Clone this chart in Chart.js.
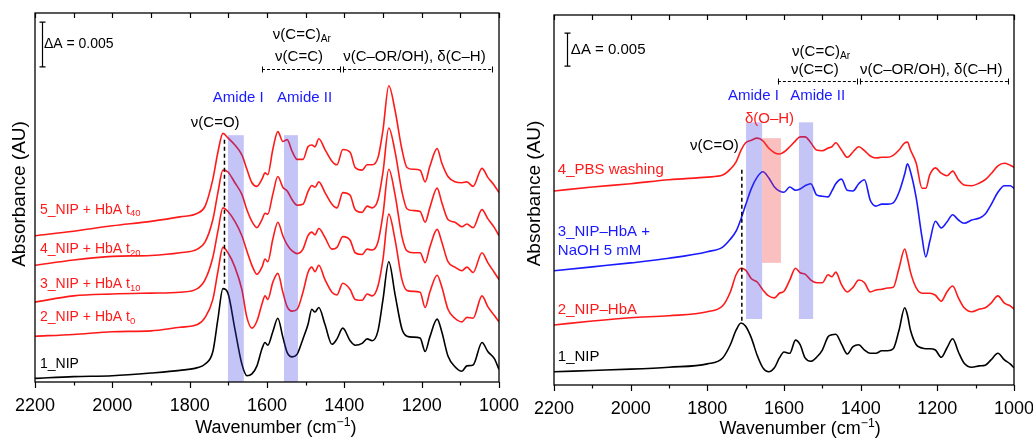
<!DOCTYPE html>
<html>
<head>
<meta charset="utf-8">
<script src="https://cdn.jsdelivr.net/npm/chart.js@4.4.0/dist/chart.umd.min.js"></script>
<style>
  html, body { margin: 0; padding: 0; background: #fff; overflow: hidden; width: 1033px; height: 439px; }
  canvas { position: absolute; top: 0; }
  #left { left: 0; }
  #right { left: 516px; }
</style>
</head>
<body>
<canvas id="left" width="540" height="439"></canvas>
<canvas id="right" width="540" height="439"></canvas>
<script>
// absorbance values are in units of 10^-3 (so the 0.005 scale bar is 5 units)
const wnLeft = [2200, 2100, 2000, 1900, 1825, 1780, 1760, 1740, 1727, 1714, 1701, 1683, 1665, 1652, 1639, 1626, 1613, 1605, 1598, 1585,
  1572, 1559, 1548, 1535, 1522, 1507, 1494, 1484, 1476, 1466, 1450, 1432, 1419, 1404, 1385, 1372, 1354, 1341, 1328, 1313,
  1300, 1285, 1269, 1251, 1238, 1222, 1204, 1191, 1179, 1160, 1148, 1132, 1114, 1096, 1083, 1067, 1044, 1029, 1012, 1000];

const nipLeft = [0.4, 0.6, 0.7, 1.0, 1.3, 1.6, 2.0, 3.4, 7.0, 10.4, 9.9, 5.9, 2.0, 0.7, 0.9, 1.8, 3.7, 4.4, 4.1, 5.6,
  7.1, 5.0, 3.3, 2.8, 3.1, 4.8, 6.4, 8.1, 7.8, 8.3, 6.4, 4.2, 4.8, 6.0, 4.6, 4.1, 4.3, 4.8, 4.6, 5.7,
  9.2, 13.4, 9.8, 5.9, 5.1, 5.0, 4.9, 3.4, 5.0, 7.0, 5.6, 2.9, 1.7, 1.2, 1.8, 1.9, 4.4, 3.4, 2.6, 1.4];
const hbaT0 = [5.1, 5.3, 5.6, 5.7, 6.1, 6.4, 7.2, 9.2, 12.3, 15.0, 14.4, 12.8, 10.3, 7.2, 6.0, 6.8, 8.7, 9.6, 9.2, 11.1,
  12.1, 10.0, 8.4, 7.9, 8.1, 10.0, 12.2, 12.8, 12.3, 13.0, 11.4, 10.0, 9.7, 11.0, 10.3, 9.2, 9.1, 9.8, 9.6, 10.7,
  13.7, 18.7, 15.9, 11.4, 10.2, 10.1, 10.0, 8.3, 10.0, 11.9, 10.6, 8.1, 7.1, 6.7, 7.2, 7.1, 9.6, 8.4, 7.4, 6.7];
const hbaT10 = [8.9, 9.6, 9.8, 9.9, 10.0, 10.4, 11.4, 13.9, 16.8, 19.4, 19.0, 17.9, 16.3, 14.6, 13.0, 12.0, 12.8, 13.7, 13.4, 15.9,
  17.8, 16.3, 15.3, 14.6, 14.3, 14.8, 16.3, 16.7, 16.4, 17.1, 16.1, 14.8, 15.0, 16.2, 15.8, 14.4, 14.2, 14.8, 14.7, 15.6,
  18.7, 23.7, 20.9, 16.2, 14.6, 14.4, 14.4, 13.3, 15.0, 17.0, 15.6, 13.4, 12.8, 12.4, 12.8, 12.2, 14.4, 13.3, 12.2, 11.4];
const hbaT20 = [13.0, 13.6, 14.0, 14.1, 14.4, 14.8, 15.6, 18.1, 21.1, 23.6, 23.4, 22.2, 20.9, 19.2, 17.9, 17.2, 18.1, 18.8, 18.7, 20.9,
  22.9, 21.7, 21.3, 20.3, 19.7, 19.8, 21.2, 21.9, 21.7, 22.3, 21.1, 19.8, 19.4, 21.1, 20.8, 19.2, 18.9, 19.6, 19.4, 20.3,
  23.4, 28.3, 25.7, 21.2, 19.3, 19.1, 19.0, 17.8, 19.4, 21.6, 20.0, 18.1, 17.8, 17.3, 17.6, 17.2, 19.2, 18.2, 17.2, 16.3];
const hbaT40 = [16.3, 16.8, 17.4, 17.9, 18.4, 18.8, 19.6, 22.6, 25.6, 27.7, 27.2, 26.4, 25.3, 23.7, 22.2, 21.8, 22.6, 23.3, 23.1, 25.9,
  27.9, 26.8, 27.0, 25.7, 24.8, 24.8, 26.2, 26.4, 26.2, 27.1, 25.9, 24.6, 24.2, 25.9, 25.6, 23.9, 23.6, 24.2, 24.2, 25.0,
  28.1, 33.0, 30.3, 25.9, 23.9, 23.7, 23.6, 22.3, 24.0, 26.0, 24.4, 22.9, 22.3, 22.2, 22.3, 21.8, 23.8, 22.8, 21.9, 21.1];

const wnRight = [2200, 2100, 2000, 1900, 1800, 1760, 1740, 1725, 1712, 1700, 1685, 1670, 1655, 1640, 1625, 1612, 1600, 1585, 1570, 1558,
  1545, 1530, 1515, 1500, 1485, 1475, 1465, 1450, 1435, 1420, 1405, 1390, 1375, 1360, 1345, 1330, 1315, 1300, 1285, 1278,
  1270, 1255, 1240, 1230, 1220, 1205, 1190, 1175, 1160, 1145, 1130, 1110, 1090, 1075, 1060, 1042, 1025, 1010, 1000];

const nipRight = [2.0, 2.2, 2.4, 2.7, 3.2, 4.1, 6.1, 8.3, 9.4, 8.9, 7.1, 4.5, 2.6, 2.0, 2.6, 4.1, 5.0, 4.8, 6.8, 6.1,
  4.1, 3.6, 4.2, 5.3, 7.3, 7.6, 7.7, 6.2, 4.7, 5.8, 6.1, 5.3, 4.8, 4.8, 5.2, 5.2, 5.5, 8.3, 11.7, 10.6,
  8.3, 6.1, 5.6, 5.5, 5.5, 5.3, 4.2, 5.6, 7.0, 5.0, 3.3, 2.7, 2.9, 3.0, 3.8, 4.8, 3.8, 3.2, 2.6];
const nipHbA = [9.1, 9.7, 10.2, 10.5, 11.1, 12.0, 14.1, 16.7, 17.7, 17.4, 16.1, 15.6, 14.4, 13.5, 13.2, 13.9, 14.2, 15.9, 17.7, 17.0,
  16.8, 15.9, 15.5, 15.5, 16.7, 16.4, 17.1, 15.2, 14.1, 14.8, 15.9, 15.5, 14.1, 14.4, 14.5, 14.7, 14.8, 17.7, 20.6, 19.2,
  17.1, 14.7, 13.9, 13.9, 13.9, 13.6, 12.7, 14.1, 15.0, 13.2, 11.7, 11.1, 11.5, 11.7, 12.4, 13.5, 12.4, 12.0, 11.5];
const nipHbANaOH = [17.3, 17.9, 18.5, 19.2, 20.2, 20.9, 22.1, 23.3, 25.2, 27.3, 29.8, 31.5, 32.3, 31.4, 30.0, 29.4, 29.2, 30.0, 29.5, 29.7,
  30.2, 30.5, 28.8, 28.6, 28.5, 29.4, 30.5, 31.2, 29.5, 29.4, 30.5, 31.1, 28.0, 27.1, 27.4, 27.4, 27.6, 29.2, 32.0, 33.5,
  32.3, 28.3, 22.4, 19.4, 21.7, 24.8, 23.8, 24.7, 25.8, 25.0, 24.5, 25.0, 25.3, 25.9, 27.3, 29.2, 30.2, 30.2, 29.8];
const pbsWash = [29.4, 30.0, 30.5, 31.1, 31.5, 31.8, 32.7, 33.8, 35.6, 36.7, 37.1, 37.4, 37.0, 35.9, 35.2, 35.0, 35.3, 36.1, 37.0, 37.6,
  37.6, 36.7, 35.6, 35.5, 35.9, 36.1, 36.7, 35.6, 34.5, 35.3, 36.1, 35.5, 34.7, 34.4, 34.5, 34.5, 34.8, 35.6, 36.7, 36.8,
  35.6, 33.6, 29.8, 29.8, 31.8, 32.9, 32.1, 31.7, 32.4, 31.1, 30.3, 30.2, 30.6, 31.1, 32.0, 33.2, 33.6, 33.3, 33.0];

const xTicks = [2200, 2000, 1800, 1600, 1400, 1200, 1000];

const FONT = '"Liberation Sans", Arial, sans-serif';
const RED = "#ff1a1a";
const BLUE = "#1a1aff";
const BLACK = "#000";

// annotations, placed in data units (wavenumber, 10^-3 absorbance)
const notes = {
  left: {
    bar: { x: 2182, y0: 35.1, y1: 40.1 },
    brackets: { y: 34.9, spans: [[1613, 1411], [1403, 1018]] },
    dashed: { x: 1710, y0: 10.7, y1: 27.0 },
    bands: [
      { from: 1701, to: 1660, y0: 0, y1: 27.5, color: "rgba(60,60,230,0.3)" },
      { from: 1556, to: 1520, y0: 0, y1: 27.5, color: "rgba(60,60,230,0.3)" },
    ],
    texts: [
      { x: 2177, y: 37.6, s: 14, c: BLACK, t: [["ΔA = 0.005"]] },
      { x: 1585, y: 38.7, s: 15, c: BLACK, t: [["ν(C=C)"], ["Ar", "sub"]] },
      { x: 1579, y: 36.2, s: 15, c: BLACK, t: [["ν(C=C)"]] },
      { x: 1403, y: 36.2, s: 15, c: BLACK, t: [["ν(C–OR/OH), δ(C–H)"]] },
      { x: 1740, y: 31.7, s: 15, c: BLUE, t: [["Amide I"]] },
      { x: 1574, y: 31.7, s: 15, c: BLUE, t: [["Amide II"]] },
      { x: 1797, y: 28.9, s: 15, c: BLACK, t: [["ν(C=O)"]] },
      { x: 2187, y: 19.2, s: 14, c: RED, t: [["5_NIP + HbA t"], ["40", "sub"]] },
      { x: 2187, y: 14.8, s: 14, c: RED, t: [["4_NIP + HbA t"], ["20", "sub"]] },
      { x: 2187, y: 10.9, s: 14, c: RED, t: [["3_NIP + HbA t"], ["10", "sub"]] },
      { x: 2187, y: 7.2, s: 14, c: RED, t: [["2_NIP + HbA t"], ["0", "sub"]] },
      { x: 2187, y: 2.0, s: 14, c: BLACK, t: [["1_NIP"]] },
    ],
    xTitle: { x: 1577, dy: 46 },
    yTitle: { x: 19.5, y: 194 },
  },
  right: {
    bar: { x: 2166, y0: 48.3, y1: 53.3 },
    brackets: { y: 46.1, spans: [[1616, 1410], [1402, 1016]] },
    dashed: { x: 1710, y0: 9.5, y1: 32.6 },
    bands: [
      { from: 1699, to: 1657, y0: 10.0, y1: 39.8, color: "rgba(60,60,230,0.3)" },
      { from: 1561, to: 1524, y0: 10.0, y1: 39.8, color: "rgba(60,60,230,0.3)" },
      { from: 1657, to: 1608, y0: 18.5, y1: 37.4, color: "rgba(240,60,60,0.32)" },
    ],
    texts: [
      { x: 2156, y: 50.8, s: 15, c: BLACK, t: [["ΔA = 0.005"]] },
      { x: 1579, y: 50.5, s: 15, c: BLACK, t: [["ν(C=C)"], ["Ar", "sub"]] },
      { x: 1582, y: 47.7, s: 15, c: BLACK, t: [["ν(C=C)"]] },
      { x: 1402, y: 47.7, s: 15, c: BLACK, t: [["ν(C–OR/OH), δ(C–H)"]] },
      { x: 1746, y: 43.8, s: 15, c: BLUE, t: [["Amide I"]] },
      { x: 1584, y: 43.8, s: 15, c: BLUE, t: [["Amide II"]] },
      { x: 1702, y: 40.3, s: 15, c: RED, t: [["δ(O–H)"]] },
      { x: 1845, y: 36.2, s: 15, c: BLACK, t: [["ν(C=O)"]] },
      { x: 2190, y: 32.6, s: 15, c: RED, t: [["4_PBS washing"]] },
      { x: 2190, y: 23.2, s: 15, c: BLUE, t: [["3_NIP–HbA +"]] },
      { x: 2190, y: 20.3, s: 15, c: BLUE, t: [["NaOH 5 mM"]] },
      { x: 2190, y: 11.4, s: 15, c: RED, t: [["2_NIP–HbA"]] },
      { x: 2190, y: 4.2, s: 15, c: BLACK, t: [["1_NIP"]] },
    ],
    xTitle: { x: 1558, dy: 44 },
    yTitle: { x: 18.5, y: 193.5 },
  },
};

function richText(ctx, x, y, parts, size, color) {
  ctx.fillStyle = color;
  ctx.textBaseline = "middle";
  ctx.textAlign = "left";
  parts.forEach(function (p) {
    var s = p[1] ? size * 0.68 : size;
    var dy = p[1] === "sub" ? size * 0.3 : p[1] === "sup" ? -size * 0.32 : 0;
    ctx.font = s + "px " + FONT;
    ctx.fillText(p[0], x, y + dy);
    x += ctx.measureText(p[0]).width;
  });
}

function richWidth(ctx, parts, size) {
  var w = 0;
  parts.forEach(function (p) {
    ctx.font = (p[1] ? size * 0.68 : size) + "px " + FONT;
    w += ctx.measureText(p[0]).width;
  });
  return w;
}

const notesPlugin = {
  id: "notes",
  afterDatasetsDraw(chart) {
    const n = notes[chart.canvas.id];
    const ctx = chart.ctx;
    const x = chart.scales.x, y = chart.scales.y;
    ctx.save();

    n.bands.forEach(function (b) {
      const x0 = x.getPixelForValue(b.from), x1 = x.getPixelForValue(b.to);
      const y0 = y.getPixelForValue(b.y0), y1 = y.getPixelForValue(b.y1);
      ctx.fillStyle = b.color;
      ctx.fillRect(x0, y1, x1 - x0, y0 - y1);
    });

    // dashed guide at the carbonyl band
    ctx.strokeStyle = BLACK;
    ctx.lineWidth = 1.5;
    ctx.setLineDash([4, 3]);
    ctx.beginPath();
    ctx.moveTo(x.getPixelForValue(n.dashed.x), y.getPixelForValue(n.dashed.y1));
    ctx.lineTo(x.getPixelForValue(n.dashed.x), y.getPixelForValue(n.dashed.y0));
    ctx.stroke();

    // range brackets
    ctx.lineWidth = 1;
    ctx.setLineDash([3, 2]);
    const by = Math.round(y.getPixelForValue(n.brackets.y)) + 0.5;
    n.brackets.spans.forEach(function (sp) {
      ctx.beginPath();
      ctx.moveTo(x.getPixelForValue(sp[0]), by);
      ctx.lineTo(x.getPixelForValue(sp[1]), by);
      ctx.stroke();
    });
    ctx.setLineDash([]);
    n.brackets.spans.forEach(function (sp) {
      [sp[0], sp[1]].forEach(function (v) {
        const px = Math.round(x.getPixelForValue(v)) + 0.5;
        ctx.beginPath();
        ctx.moveTo(px, by - 3);
        ctx.lineTo(px, by + 3);
        ctx.stroke();
      });
    });

    // scale bar
    const sx = Math.round(x.getPixelForValue(n.bar.x)) + 0.5;
    const sy0 = y.getPixelForValue(n.bar.y0), sy1 = y.getPixelForValue(n.bar.y1);
    ctx.lineWidth = 1.2;
    ctx.beginPath();
    ctx.moveTo(sx, sy0); ctx.lineTo(sx, sy1);
    ctx.moveTo(sx - 3, sy0); ctx.lineTo(sx + 3, sy0);
    ctx.moveTo(sx - 3, sy1); ctx.lineTo(sx + 3, sy1);
    ctx.stroke();

    n.texts.forEach(function (t) {
      richText(ctx, x.getPixelForValue(t.x), y.getPixelForValue(t.y), t.t, t.s, t.c);
    });
    ctx.restore();
  },
  afterDraw(chart) {
    const n = notes[chart.canvas.id];
    const ctx = chart.ctx;
    const a = chart.chartArea;
    const x = chart.scales.x;
    ctx.save();
    ctx.strokeStyle = BLACK;
    ctx.lineWidth = 1.3;
    ctx.strokeRect(a.left, a.top, a.right - a.left, a.bottom - a.top);
    ctx.lineWidth = 1.2;
    for (let v = 1000; v <= 2200; v += 100) {
      const px = Math.round(x.getPixelForValue(v)) + 0.5;
      const major = v % 200 === 0;
      ctx.beginPath();
      ctx.moveTo(px, a.bottom);
      ctx.lineTo(px, a.bottom + (major ? 6 : 3.5));
      ctx.moveTo(px, a.top);
      ctx.lineTo(px, a.top + 5);
      ctx.stroke();
    }
    // axis titles
    const title = [["Wavenumber (cm"], ["−1", "sup"], [")"]];
    const w = richWidth(ctx, title, 18);
    richText(ctx, x.getPixelForValue(n.xTitle.x) - w / 2, a.bottom + n.xTitle.dy, title, 18, BLACK);
    ctx.translate(n.yTitle.x, n.yTitle.y);
    ctx.rotate(-Math.PI / 2);
    ctx.font = "19px " + FONT;
    ctx.fillStyle = BLACK;
    ctx.textAlign = "center";
    ctx.textBaseline = "middle";
    ctx.fillText("Absorbance (AU)", 0, 0);
    ctx.restore();
  },
};

function makeChart(id, wn, series, yMax, yWidth, xHeight, padding) {
  return new Chart(document.getElementById(id), {
    type: "line",
    data: {
      datasets: series.map(function (s) {
        return {
          data: wn.map(function (w, i) { return { x: w, y: s.values[i] }; }),
          borderColor: s.color,
          borderWidth: 1.6,
          pointRadius: 0,
          fill: false,
          cubicInterpolationMode: "monotone",
        };
      }),
    },
    options: {
      responsive: false,
      animation: false,
      devicePixelRatio: 1,
      layout: { padding: padding },
      plugins: { legend: { display: false }, tooltip: { enabled: false } },
      scales: {
        x: {
          type: "linear",
          reverse: true,
          min: 1000,
          max: 2200,
          afterFit: function (s) { s.height = xHeight; },
          afterBuildTicks: function (s) { s.ticks = xTicks.map(function (v) { return { value: v }; }); },
          grid: { display: false, drawTicks: false },
          border: { display: false },
          ticks: {
            padding: 13,
            color: BLACK,
            maxRotation: 0,
            autoSkip: false,
            font: { family: FONT, size: 18 },
            callback: function (v) { return String(v); },
          },
        },
        y: {
          min: 0,
          max: yMax,
          afterFit: function (s) { s.width = yWidth; },
          grid: { display: false, drawTicks: false },
          border: { display: false },
          ticks: { display: false },
        },
      },
    },
    plugins: [notesPlugin],
  });
}

makeChart("left", wnLeft, [
  { values: nipLeft, color: BLACK },
  { values: hbaT0, color: RED },
  { values: hbaT10, color: RED },
  { values: hbaT20, color: RED },
  { values: hbaT40, color: RED },
], 370 / 9, 35, 57, { top: 13, right: 41, left: 0, bottom: 0 });

makeChart("right", wnRight, [
  { values: nipRight, color: BLACK },
  { values: nipHbA, color: RED },
  { values: nipHbANaOH, color: BLUE },
  { values: pbsWash, color: RED },
], 370 / 6.6, 38, 54, { top: 15, right: 42, left: 0, bottom: 0 });
</script>
</body>
</html>
